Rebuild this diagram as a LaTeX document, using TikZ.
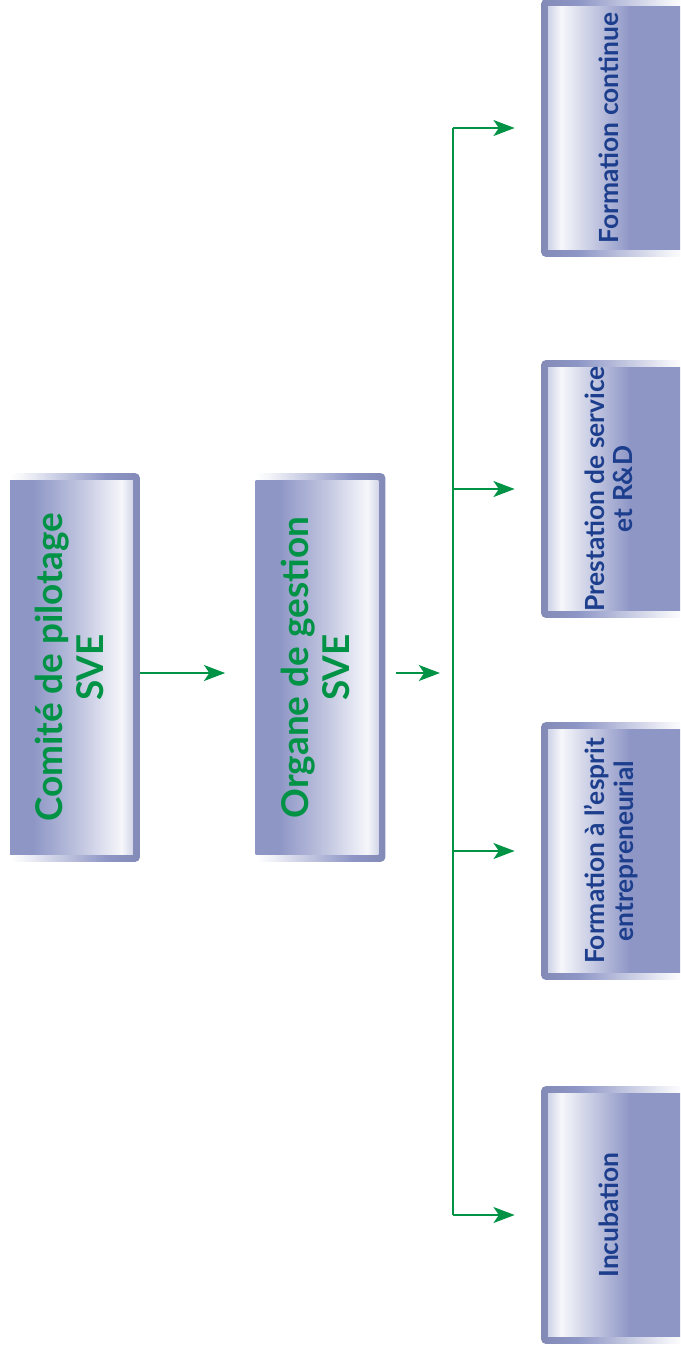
\documentclass[tikz,border=0pt]{standalone}
\usepackage{fontspec}
\setmainfont{Lato}
\usetikzlibrary{arrows.meta}

\definecolor{boxblue}{RGB}{142,150,198}
\definecolor{linegreen}{RGB}{0,146,69}
\definecolor{textblue}{RGB}{28,62,140}

\pgfdeclarehorizontalshading{framelr}{100bp}{color(0bp)=(white); color(25bp)=(white); color(30bp)=(white!90!boxblue); color(62bp)=(boxblue); color(75bp)=(boxblue!92!black); color(100bp)=(boxblue!92!black)}
\pgfdeclarehorizontalshading{framerl}{100bp}{color(0bp)=(boxblue!92!black); color(25bp)=(boxblue!92!black); color(38bp)=(boxblue); color(70bp)=(white!90!boxblue); color(75bp)=(white); color(100bp)=(white)}
\pgfdeclarehorizontalshading{facelr}{100bp}{color(0bp)=(boxblue); color(25bp)=(boxblue); color(34bp)=(boxblue); color(52bp)=(boxblue!55!white); color(68bp)=(white!92!boxblue); color(75bp)=(boxblue!60!white); color(100bp)=(boxblue!60!white)}
\pgfdeclarehorizontalshading{facerl}{100bp}{color(0bp)=(boxblue!60!white); color(25bp)=(boxblue!60!white); color(32bp)=(white!92!boxblue); color(44bp)=(boxblue!55!white); color(56bp)=(boxblue); color(75bp)=(boxblue); color(100bp)=(boxblue)}

\tikzset{
	panel/.style={shade, rounded corners=0.1cm, inner sep=0pt},
	leftpanel/.style={panel, shading=framelr, minimum width=2.6cm, minimum height=7.78cm,
			text=linegreen, font=\fontsize{21}{23.5}\selectfont\bfseries,
			path picture={\shade[shading=facelr, sharp corners] ([yshift=-0.14cm]path picture bounding box.north west) rectangle ([xshift=-0.14cm, yshift=0.14cm]path picture bounding box.south east);}},
	rightpanel/.style={panel, shading=framerl, minimum width=2.88cm, minimum height=5.16cm,
			text=textblue, font=\fontsize{15}{16}\selectfont\bfseries,
			path picture={\shade[shading=facerl, sharp corners] ([xshift=0.14cm, yshift=-0.14cm]path picture bounding box.north west) rectangle ([yshift=0.14cm]path picture bounding box.south east);}},
	link/.style={draw=linegreen, line width=1.5pt},
	flow/.style={link, -{Stealth[length=12pt, width=9pt, inset=3pt]}}
}

\newcommand{\vtext}[1]{\rotatebox{90}{\begin{tabular}{@{}c@{}}#1\end{tabular}}}

\begin{document}
\begin{tikzpicture}[x=0.02cm, y=-0.02cm]
		\useasboundingbox (0, 0) rectangle (680, 1353);
		\clip (0, 0) rectangle (680, 1353);

		\node[leftpanel] (comite) at (75, 667.5) {\vtext{Comité de pilotage\\SVE}};
		\node[leftpanel] (organe) at (320.5, 667.5) {\vtext{Organe de gestion\\SVE}};

		\node[rightpanel] (fc) at (613, 128) {\vtext{Formation continue}};
		\node[rightpanel] (ps) at (613, 489) {\vtext{Prestation de service\\et R\&D}};
		\node[rightpanel] (fe) at (613, 851) {\vtext{Formation à l’esprit\\entrepreneurial}};
		\node[rightpanel] (inc) at (613, 1215) {\vtext{Incubation}};

		\coordinate (bus) at (453, 673);

		\draw[flow, shorten >=0.6cm] (comite.east |- bus) -- (organe.west |- bus);
		\draw[flow, shorten <=0.2cm, shorten >=0.26cm] (organe.east |- bus) -- (bus);
		\draw[link] (bus |- fc.west) -- (bus |- inc.west);

		\foreach \n in {fc, ps, fe, inc}{
				\draw[flow, shorten >=0.52cm] (bus |- \n.west) -- (\n.west);
			}
	\end{tikzpicture}
\end{document}
